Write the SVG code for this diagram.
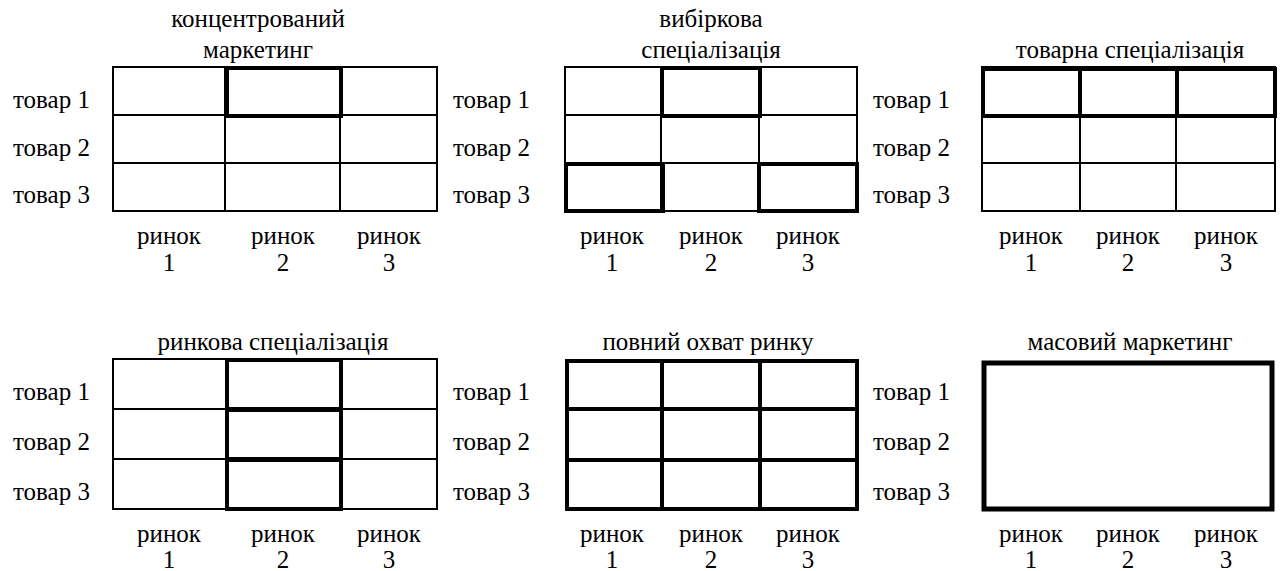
<svg xmlns="http://www.w3.org/2000/svg" width="1282" height="571" viewBox="0 0 1282 571">
<style>
.thin{fill:none;stroke:#000;stroke-width:2}
.thick{fill:none;stroke:#000;stroke-width:4}
.heavy{fill:none;stroke:#000;stroke-width:5}
</style>
<rect width="1282" height="571" fill="#fff"/>

<g id="p1">
<text font-family="Liberation Serif" font-size="25" text-anchor="middle" x="258" y="27">концентрований</text>
<text font-family="Liberation Serif" font-size="25" text-anchor="middle" x="258" y="58">маркетинг</text>
<text font-family="Liberation Serif" font-size="25" x="13" y="108">товар 1</text>
<text font-family="Liberation Serif" font-size="25" x="13" y="156">товар 2</text>
<text font-family="Liberation Serif" font-size="25" x="13" y="203">товар 3</text>
<rect class="thin" x="113" y="67" width="324" height="144"/>
<path class="thin" d="M113 115H437M113 163H437M225 67V211M340 67V211"/>
<rect class="thick" x="227" y="68" width="114" height="48"/>
<text font-family="Liberation Serif" font-size="25" text-anchor="middle" x="169" y="244">ринок</text><text font-family="Liberation Serif" font-size="25" text-anchor="middle" x="169" y="271">1</text>
<text font-family="Liberation Serif" font-size="25" text-anchor="middle" x="283" y="244">ринок</text><text font-family="Liberation Serif" font-size="25" text-anchor="middle" x="283" y="271">2</text>
<text font-family="Liberation Serif" font-size="25" text-anchor="middle" x="389" y="244">ринок</text><text font-family="Liberation Serif" font-size="25" text-anchor="middle" x="389" y="271">3</text>
</g>

<g id="p2">
<text font-family="Liberation Serif" font-size="25" text-anchor="middle" x="711" y="27">вибіркова</text>
<text font-family="Liberation Serif" font-size="25" text-anchor="middle" x="711" y="58">спеціалізація</text>
<text font-family="Liberation Serif" font-size="25" x="453" y="108">товар 1</text>
<text font-family="Liberation Serif" font-size="25" x="453" y="156">товар 2</text>
<text font-family="Liberation Serif" font-size="25" x="453" y="203">товар 3</text>
<rect class="thin" x="565" y="67" width="292" height="144"/>
<path class="thin" d="M565 115H857M565 163H857M661 67V211M759 67V211"/>
<rect class="thick" x="662" y="68" width="98" height="48"/>
<rect class="thick" x="566" y="164" width="97" height="47"/>
<rect class="thick" x="759" y="164" width="98" height="47"/>
<text font-family="Liberation Serif" font-size="25" text-anchor="middle" x="612" y="244">ринок</text><text font-family="Liberation Serif" font-size="25" text-anchor="middle" x="612" y="271">1</text>
<text font-family="Liberation Serif" font-size="25" text-anchor="middle" x="711" y="244">ринок</text><text font-family="Liberation Serif" font-size="25" text-anchor="middle" x="711" y="271">2</text>
<text font-family="Liberation Serif" font-size="25" text-anchor="middle" x="808" y="244">ринок</text><text font-family="Liberation Serif" font-size="25" text-anchor="middle" x="808" y="271">3</text>
</g>

<g id="p3">
<text font-family="Liberation Serif" font-size="25" text-anchor="middle" x="1130" y="58">товарна спеціалізація</text>
<text font-family="Liberation Serif" font-size="25" x="873" y="108">товар 1</text>
<text font-family="Liberation Serif" font-size="25" x="873" y="156">товар 2</text>
<text font-family="Liberation Serif" font-size="25" x="873" y="203">товар 3</text>
<rect class="thin" x="982" y="67" width="293" height="144"/>
<path class="thin" d="M982 116H1275M982 163H1275M1080 67V211M1176 67V211"/>
<rect class="thick" x="983" y="69" width="97" height="47"/>
<rect class="thick" x="1080" y="69" width="97" height="47"/>
<rect class="thick" x="1177" y="69" width="98" height="47"/>
<text font-family="Liberation Serif" font-size="25" text-anchor="middle" x="1031" y="244">ринок</text><text font-family="Liberation Serif" font-size="25" text-anchor="middle" x="1031" y="271">1</text>
<text font-family="Liberation Serif" font-size="25" text-anchor="middle" x="1128" y="244">ринок</text><text font-family="Liberation Serif" font-size="25" text-anchor="middle" x="1128" y="271">2</text>
<text font-family="Liberation Serif" font-size="25" text-anchor="middle" x="1226" y="244">ринок</text><text font-family="Liberation Serif" font-size="25" text-anchor="middle" x="1226" y="271">3</text>
</g>

<g id="p4">
<text font-family="Liberation Serif" font-size="25" text-anchor="middle" x="273" y="350">ринкова спеціалізація</text>
<text font-family="Liberation Serif" font-size="25" x="13" y="400">товар 1</text>
<text font-family="Liberation Serif" font-size="25" x="13" y="450">товар 2</text>
<text font-family="Liberation Serif" font-size="25" x="13" y="500">товар 3</text>
<rect class="thin" x="113" y="359" width="324" height="150"/>
<path class="thin" d="M113 409H437M113 459H437M226 359V509M340 359V509"/>
<rect class="thick" x="227" y="360" width="114" height="49"/>
<rect class="thick" x="227" y="410" width="114" height="49"/>
<rect class="thick" x="227" y="460" width="114" height="49"/>
<text font-family="Liberation Serif" font-size="25" text-anchor="middle" x="169" y="542">ринок</text><text font-family="Liberation Serif" font-size="25" text-anchor="middle" x="169" y="568">1</text>
<text font-family="Liberation Serif" font-size="25" text-anchor="middle" x="283" y="542">ринок</text><text font-family="Liberation Serif" font-size="25" text-anchor="middle" x="283" y="568">2</text>
<text font-family="Liberation Serif" font-size="25" text-anchor="middle" x="389" y="542">ринок</text><text font-family="Liberation Serif" font-size="25" text-anchor="middle" x="389" y="568">3</text>
</g>

<g id="p5">
<text font-family="Liberation Serif" font-size="25" text-anchor="middle" x="708" y="350">повний охват ринку</text>
<text font-family="Liberation Serif" font-size="25" x="453" y="400">товар 1</text>
<text font-family="Liberation Serif" font-size="25" x="453" y="450">товар 2</text>
<text font-family="Liberation Serif" font-size="25" x="453" y="500">товар 3</text>
<rect class="thick" x="567" y="361" width="290" height="148"/>
<path class="thick" d="M567 409H857M567 460H857M662 361V509M760 361V509"/>
<text font-family="Liberation Serif" font-size="25" text-anchor="middle" x="612" y="542">ринок</text><text font-family="Liberation Serif" font-size="25" text-anchor="middle" x="612" y="568">1</text>
<text font-family="Liberation Serif" font-size="25" text-anchor="middle" x="711" y="542">ринок</text><text font-family="Liberation Serif" font-size="25" text-anchor="middle" x="711" y="568">2</text>
<text font-family="Liberation Serif" font-size="25" text-anchor="middle" x="808" y="542">ринок</text><text font-family="Liberation Serif" font-size="25" text-anchor="middle" x="808" y="568">3</text>
</g>

<g id="p6">
<text font-family="Liberation Serif" font-size="25" text-anchor="middle" x="1130" y="350">масовий маркетинг</text>
<text font-family="Liberation Serif" font-size="25" x="873" y="400">товар 1</text>
<text font-family="Liberation Serif" font-size="25" x="873" y="450">товар 2</text>
<text font-family="Liberation Serif" font-size="25" x="873" y="500">товар 3</text>
<rect class="heavy" x="984" y="363" width="288" height="146"/>
<text font-family="Liberation Serif" font-size="25" text-anchor="middle" x="1031" y="542">ринок</text><text font-family="Liberation Serif" font-size="25" text-anchor="middle" x="1031" y="568">1</text>
<text font-family="Liberation Serif" font-size="25" text-anchor="middle" x="1128" y="542">ринок</text><text font-family="Liberation Serif" font-size="25" text-anchor="middle" x="1128" y="568">2</text>
<text font-family="Liberation Serif" font-size="25" text-anchor="middle" x="1226" y="542">ринок</text><text font-family="Liberation Serif" font-size="25" text-anchor="middle" x="1226" y="568">3</text>
</g>

<g id="connectors"></g>
</svg>
